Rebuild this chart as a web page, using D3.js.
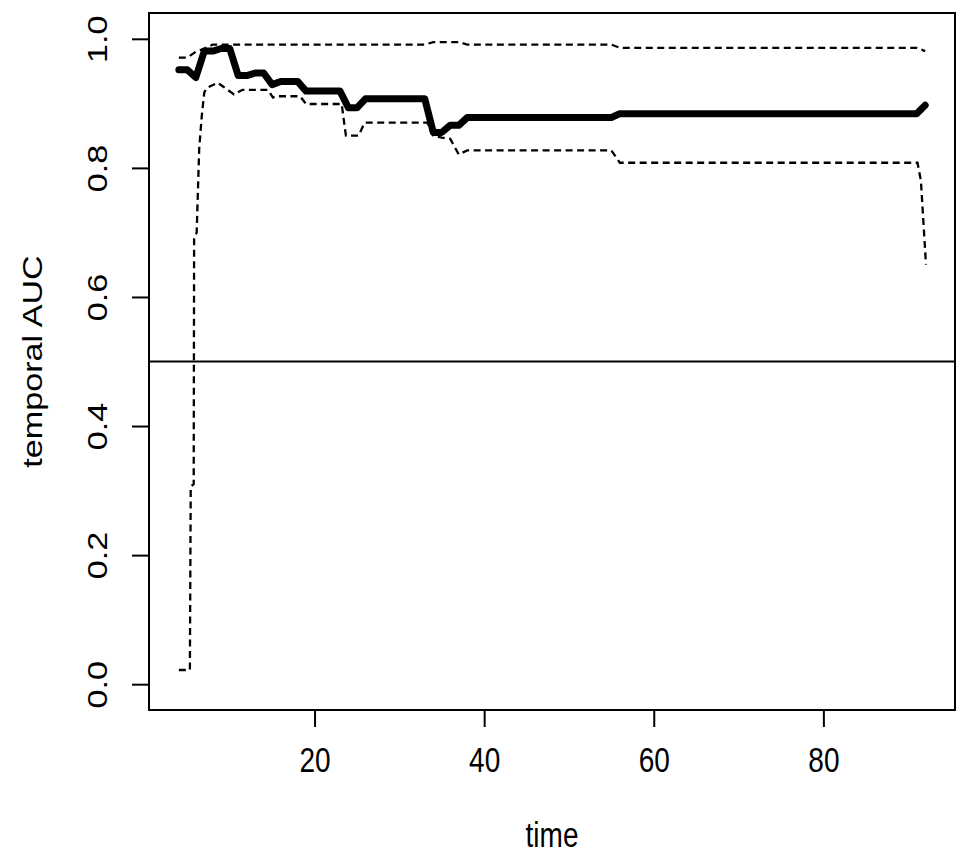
<!DOCTYPE html>
<html>
<head>
<meta charset="utf-8">
<script src="https://cdn.jsdelivr.net/npm/d3@7"></script>
<style>
  body { margin: 0; background: #fff; }
  svg { display: block; font-family: "Liberation Sans", Arial, sans-serif; }
</style>
</head>
<body>
<svg id="aucChart" width="969" height="860"></svg>
<script>
// --- Data: breakpoints of the step curves (time, AUC) ---
const aucTime  = [4, 5, 6, 7, 8, 9, 10, 11, 12, 13, 14, 15, 16, 18, 19, 23, 24, 25, 26, 33, 34, 35, 36, 37, 38, 55, 56, 91, 92];
const aucValue = [0.952, 0.952, 0.940, 0.981, 0.981, 0.985, 0.985, 0.943, 0.943, 0.947, 0.947, 0.929, 0.934, 0.934, 0.919, 0.919, 0.893, 0.893, 0.907, 0.907, 0.855, 0.855, 0.866, 0.866, 0.878, 0.878, 0.884, 0.884, 0.897];

const upperTime  = [4, 5, 6, 7, 8, 33, 34, 37, 38, 55, 56, 91, 92];
const upperValue = [0.971, 0.971, 0.980, 0.985, 0.991, 0.991, 0.995, 0.995, 0.991, 0.991, 0.986, 0.986, 0.981];

const lowerTime  = [4, 5.3, 5.4, 5.75, 5.8, 6.1, 6.4, 6.7, 7.0, 7.3, 8.6, 9, 10.5, 11.5, 14.5, 15.1, 15.5, 18.3, 19, 23.2, 23.7, 25.2, 25.9, 33.3, 34, 35, 36, 37, 38, 55, 56, 91.1, 91.5, 92.1];
const lowerValue = [0.022, 0.022, 0.306, 0.31, 0.69, 0.70, 0.83, 0.88, 0.917, 0.924, 0.932, 0.928, 0.914, 0.921, 0.921, 0.909, 0.911, 0.911, 0.899, 0.899, 0.850, 0.850, 0.870, 0.870, 0.850, 0.847, 0.845, 0.821, 0.827, 0.827, 0.808, 0.808, 0.78, 0.650];

const xTicks = [20, 40, 60, 80];
const yTicks = [0.0, 0.2, 0.4, 0.6, 0.8, 1.0];
const refLine = 0.5;

const xLabel = "time";
const yLabel = "temporal AUC";

function drawAucChart() {
  const svg = d3.select("#aucChart");
  svg.selectAll("*").remove();

  // plot region (R style: data range padded by 4%)
  const box = { left: 149, right: 955, top: 13, bottom: 710 };
  const fontSize = 28;
  const stretch = 1.22; // the original glyphs are taller than wide

  const x = d3.scaleLinear()
    .domain([4 - 0.04 * 88, 92 + 0.04 * 88])
    .range([box.left, box.right]);

  const y = d3.scaleLinear()
    .domain([-0.04, 1.04])
    .range([box.bottom, box.top]);

  const line = d3.line()
    .x(d => x(d[0]))
    .y(d => y(d[1]));

  const zip = (a, b) => a.map((t, i) => [t, b[i]]);

  // --- Axes ---
  const xAxis = svg.append("g")
    .attr("transform", `translate(0,${box.bottom})`)
    .call(d3.axisBottom(x).tickValues(xTicks).tickFormat(d3.format("d")).tickSizeOuter(0).tickSizeInner(17));

  const yAxis = svg.append("g")
    .attr("transform", `translate(${box.left},0)`)
    .call(d3.axisLeft(y).tickValues(yTicks).tickFormat(d3.format(".1f")).tickSizeOuter(0).tickSizeInner(17));

  [xAxis, yAxis].forEach(a => {
    a.select(".domain").remove();
    a.selectAll(".tick line").attr("stroke", "#000").attr("stroke-width", 2);
    a.selectAll(".tick text")
      .attr("fill", "#000")
      .attr("font-size", fontSize);
  });

  xAxis.selectAll(".tick text")
    .attr("y", 0)
    .attr("dy", null)
    .attr("transform", `translate(0,62) scale(1,${stretch})`);

  yAxis.selectAll(".tick text")
    .attr("x", null)
    .attr("dy", null)
    .attr("text-anchor", "middle")
    .attr("transform", `translate(-42,0) rotate(-90) scale(${stretch},1)`);

  // --- Reference line at 0.5 ---
  svg.append("line")
    .attr("x1", box.left).attr("x2", box.right)
    .attr("y1", y(refLine)).attr("y2", y(refLine))
    .attr("stroke", "#000")
    .attr("stroke-width", 2);

  // --- Confidence bands (dashed) ---
  [zip(upperTime, upperValue), zip(lowerTime, lowerValue)].forEach(pts => {
    svg.append("path")
      .datum(pts)
      .attr("fill", "none")
      .attr("stroke", "#000")
      .attr("stroke-width", 2.3)
      .attr("stroke-dasharray", "7,4.5")
      .attr("d", line);
  });

  // --- AUC curve ---
  svg.append("path")
    .datum(zip(aucTime, aucValue))
    .attr("fill", "none")
    .attr("stroke", "#000")
    .attr("stroke-width", 7)
    .attr("stroke-linejoin", "round")
    .attr("stroke-linecap", "round")
    .attr("d", line);

  // --- Box ---
  svg.append("rect")
    .attr("x", box.left).attr("y", box.top)
    .attr("width", box.right - box.left)
    .attr("height", box.bottom - box.top)
    .attr("fill", "none")
    .attr("stroke", "#000")
    .attr("stroke-width", 2);

  // --- Axis labels ---
  svg.append("text")
    .attr("transform", `translate(${(box.left + box.right) / 2},847) scale(1,${stretch})`)
    .attr("text-anchor", "middle")
    .attr("font-size", fontSize)
    .text(xLabel);

  svg.append("text")
    .attr("transform", `translate(42,${(box.top + box.bottom) / 2}) rotate(-90) scale(${stretch},1)`)
    .attr("text-anchor", "middle")
    .attr("font-size", fontSize)
    .text(yLabel);
}

drawAucChart();
</script>
</body>
</html>
